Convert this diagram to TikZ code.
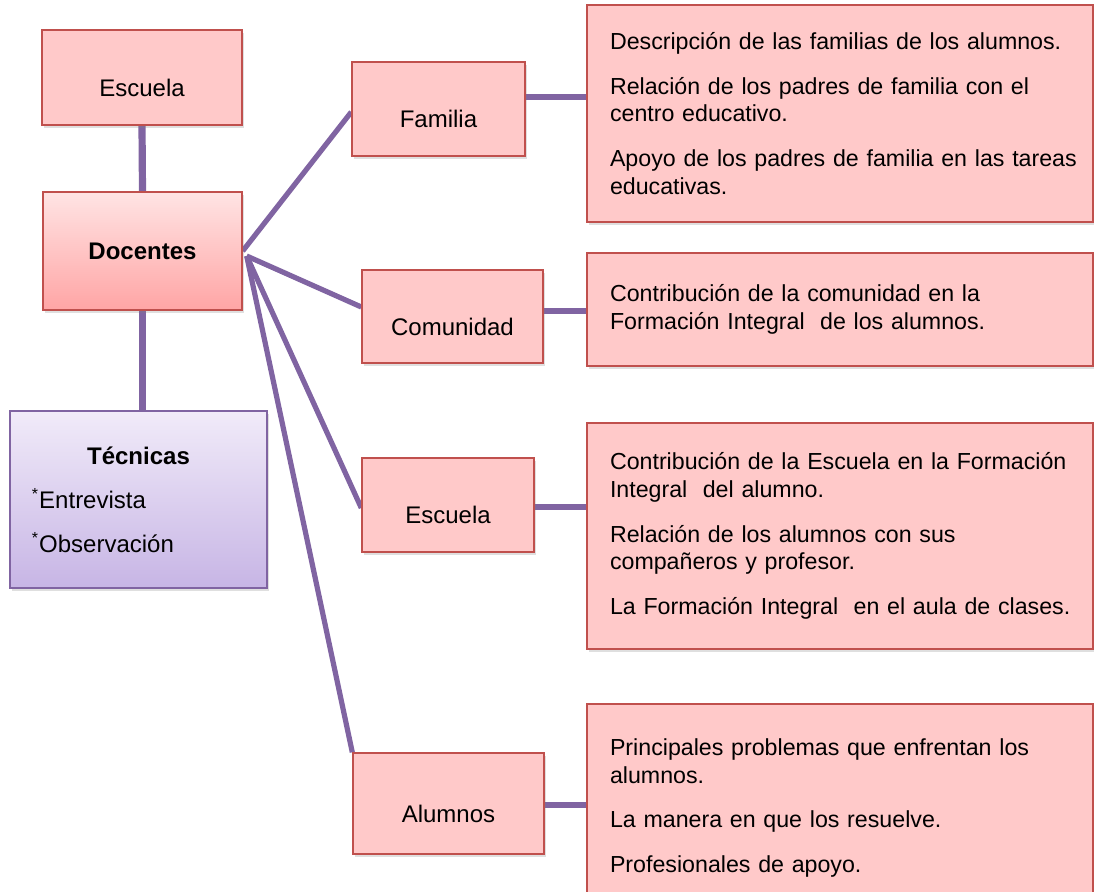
\documentclass[tikz,border=0pt]{standalone}
\usepackage{fontspec}
\setmainfont{Liberation Sans}
\usetikzlibrary{shadows,backgrounds}
\definecolor{boxfill}{RGB}{255,201,201}
\definecolor{boxline}{RGB}{192,80,77}
\definecolor{doctop}{RGB}{255,228,228}
\definecolor{docbot}{RGB}{255,165,165}
\definecolor{tectop}{RGB}{241,235,249}
\definecolor{tecbot}{RGB}{199,181,229}
\definecolor{tecline}{RGB}{128,100,162}
\definecolor{linkviolet}{RGB}{128,100,162}
\tikzset{
  box/.style={draw=boxline,line width=0.7pt,fill=boxfill,inner sep=3pt,
    drop shadow={shadow xshift=1.2pt,shadow yshift=-1.6pt,opacity=.25}},
  lblbox/.style={box,text height=20pt,text depth=1pt},
  txtbox/.style={box,text width=250pt,align=left,inner xsep=1.5pt,
    font=\fontsize{11.6}{13.8}\selectfont,
    execute at begin node={\leftskip=10pt\hyphenpenalty=10000\relax}},
  link/.style={draw=linkviolet,line width=2.6pt},
  stem/.style={link,line width=3.6pt}
}
\begin{document}
\begin{tikzpicture}[x=0.5pt,y=-0.5pt,font=\fontsize{12}{13.8}\selectfont]
\useasboundingbox (0,0) rectangle (1094,892);
\node[lblbox,minimum width=100pt,minimum height=47.5pt] (esc) at (142,77.5) {Escuela};
\node[box,top color=doctop,bottom color=docbot,minimum width=99.5pt,minimum height=59pt] (doc) at (142.5,251) {\textbf{Docentes}};
\node[box,draw=tecline,top color=tectop,bottom color=tecbot,text width=106.5pt,align=left,inner xsep=11pt,minimum height=88.5pt] (tec) at (138.5,499.5)
  {\makebox[106.5pt]{\textbf{Técnicas}}\\[8.2pt]\textsuperscript{*}Entrevista\\[8.2pt]\textsuperscript{*}Observación};
\node[lblbox,minimum width=86.5pt,minimum height=47pt] (fam) at (438.5,109) {Familia};
\node[lblbox,minimum width=90.5pt,minimum height=46.5pt] (com) at (452.5,316.5) {Comunidad};
\node[lblbox,minimum width=86pt,minimum height=47pt] (escu) at (448,505) {Escuela};
\node[lblbox,minimum width=95.5pt,minimum height=50.5pt] (alu) at (448.5,803.5) {Alumnos};
\node[txtbox,minimum height=108.5pt] (famd) at (840,113.5) {Descripción de las familias de los alumnos.\\[8.5pt]
  Relación de los padres de familia con el\\centro educativo.\\[8.5pt]
  Apoyo de los padres de familia en las tareas\\educativas.};
\node[txtbox,minimum height=56.5pt] (comd) at (840,309.5) {Contribución de la comunidad en la\\Formación Integral\ \ de los alumnos.};
\node[txtbox,minimum height=113pt] (escd) at (840,536) {Contribución de la Escuela en la Formación\\Integral\ \ del alumno.\\[8.5pt]
  Relación de los alumnos con sus\\compañeros y profesor.\\[8.5pt]
  La Formación Integral\ \ en el aula de clases.};
\node[txtbox,minimum height=104pt] (alud) at (840,808) {Principales problemas que enfrentan los\\alumnos.\\[8.5pt]
  La manera en que los resuelve.\\[8.5pt]
  Profesionales de apoyo.};
\begin{scope}[on background layer]
\draw[stem] (esc.south) -- (doc.north);
\draw[stem] (doc.south) -- (doc.south |- tec.north);
\coordinate (hub) at ([xshift=2pt,yshift=-2.5pt]doc.east);
\draw[link] (doc.east) -- ([yshift=-1.5pt]fam.west);
\draw[link] (hub) -- ([yshift=4.75pt]com.west);
\draw[link] (hub) -- ([yshift=-1.5pt]escu.west);
\draw[link] (hub) -- (alu.north west);
\draw[link] ([yshift=6pt]fam.east) coordinate (f) -- (f -| famd.west);
\draw[link] ([yshift=2.75pt]com.east) coordinate (c) -- (c -| comd.west);
\draw[link] ([yshift=-1pt]escu.east) coordinate (e) -- (e -| escd.west);
\draw[link] ([yshift=-0.75pt]alu.east) coordinate (a) -- (a -| alud.west);
\end{scope}
\end{tikzpicture}
\end{document}
